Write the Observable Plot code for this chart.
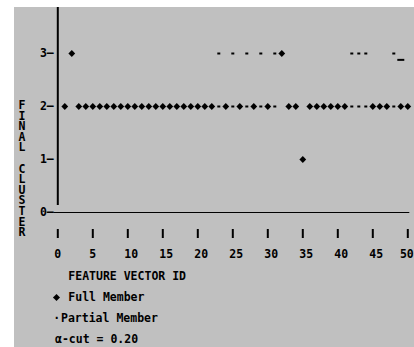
<!DOCTYPE html>
<html>
<head>
<meta charset="utf-8">
<script src="https://cdn.jsdelivr.net/npm/d3@7"></script>
<script src="https://cdn.jsdelivr.net/npm/@observablehq/plot@0.6"></script>
<style>
  body { margin: 0; background: #fff; }
  #panel { position: absolute; left: 14px; top: 7px; width: 400px; height: 340px; background: #c0c0c0; overflow: hidden;
           font-family: "DejaVu Sans Mono", monospace; font-weight: bold; font-size: 11.5px; color: #000; }
  #chart { position: absolute; left: 0; top: 0; }
  .t { position: absolute; white-space: pre; line-height: 14px; }
  #ylabel { position: absolute; left: 2px; top: 93px; width: 12px; text-align: center; white-space: pre; line-height: 10.6px; }
  .diam { position: absolute; width: 5px; height: 5px; background: #000; transform: rotate(45deg); }
</style>
</head>
<body>
<div id="panel">
  <div id="chart"></div>
  <div id="ylabel"></div>
  <div class="t" style="left:54.3px; top:262px;">FEATURE VECTOR ID</div>
  <div class="diam" style="left:40.2px; top:287.5px;"></div>
  <div class="t" style="left:54.3px; top:283px;">Full Member</div>
  <div class="t" style="left:39.2px; top:304px;">·</div>
  <div class="t" style="left:47px; top:304px;">Partial Member</div>
  <div class="t" style="left:41px; top:325px;">α-cut = 0.20</div>
</div>
<script>
const xTicks = [0, 5, 10, 15, 20, 25, 30, 35, 40, 45, 50];
const yTicks = [0, 1, 2, 3];
const yLabel = "FINAL CLUSTER";

// Full members by final cluster (feature vector ids)
const fullCluster1 = [35];
const fullCluster2 = [1, 3, 4, 5, 6, 7, 8, 9, 10, 11, 12, 13, 14, 15, 16, 17, 18, 19, 20, 21, 22,
                      24, 26, 28, 30, 33, 34, 36, 37, 38, 39, 40, 41, 45, 46, 47, 49, 50];
const fullCluster3 = [2, 32];
// Partial members
const partialCluster2 = [23, 25, 27, 29, 31, 42, 43, 44, 48];
const partialCluster3 = [23, 25, 27, 29, 31, 42, 43, 44, 48];
// stray underscore mark near cluster 3
const cursorIds = [49];
const cursorLevels = [2.88];

document.getElementById("ylabel").textContent = yLabel.split("").join("\n");

const full = [
  ...fullCluster1.map(id => ({id, cluster: 1})),
  ...fullCluster2.map(id => ({id, cluster: 2})),
  ...fullCluster3.map(id => ({id, cluster: 3}))
];
const partial = [
  ...partialCluster2.map(id => ({id, cluster: 2})),
  ...partialCluster3.map(id => ({id, cluster: 3}))
];
const cursor = cursorIds.map((id, i) => ({id, cluster: cursorLevels[i]}));

const diamondSym = {draw(ctx) { ctx.moveTo(0, -3.4); ctx.lineTo(3.4, 0); ctx.lineTo(0, 3.4); ctx.lineTo(-3.4, 0); ctx.closePath(); }};
const dashSym = {draw(ctx) { ctx.rect(-1.5, -1, 3, 2); }};
const underSym = {draw(ctx) { ctx.rect(-3.5, -1, 7, 2); }};

const lastTick = xTicks[xTicks.length - 1];
const chart = Plot.plot({
  width: 400,
  height: 255,
  marginLeft: 43.3,
  marginRight: 6.7,
  marginTop: 0,
  marginBottom: 50,
  style: {background: "transparent", fontFamily: "DejaVu Sans Mono, monospace", fontSize: "11.5px", fontWeight: "bold", color: "#000"},
  x: {domain: [0, 50], axis: null},
  y: {domain: [0, 3.868], axis: null},
  marks: [
    Plot.ruleX([0], {stroke: "#000", strokeWidth: 2, insetBottom: 7}),
    Plot.ruleY([0], {stroke: "#000", strokeWidth: 1, insetLeft: -4, insetRight: -2}),
    Plot.axisY(yTicks, {tickSize: 0, tickPadding: 4, tickFormat: d => `${d}–`, label: null}),
    Plot.axisX(xTicks, {tickSize: 9, dy: 17, strokeWidth: 2, tickFormat: () => "", label: null}),
    Plot.axisX(xTicks.filter(d => d !== lastTick), {tickSize: 0, dy: 37, dx: -3.5, textAnchor: "start", tickPadding: 0, label: null}),
    Plot.axisX([lastTick], {tickSize: 0, dy: 37, dx: 6, textAnchor: "end", tickPadding: 0, label: null}),
    Plot.dot(full, {x: "id", y: "cluster", symbol: diamondSym, fill: "#000", stroke: "none"}),
    Plot.dot(partial, {x: "id", y: "cluster", symbol: dashSym, fill: "#000", stroke: "none"}),
    Plot.dot(cursor, {x: "id", y: "cluster", symbol: underSym, fill: "#000", stroke: "none"})
  ]
});
document.getElementById("chart").appendChild(chart);
</script>
</body>
</html>
